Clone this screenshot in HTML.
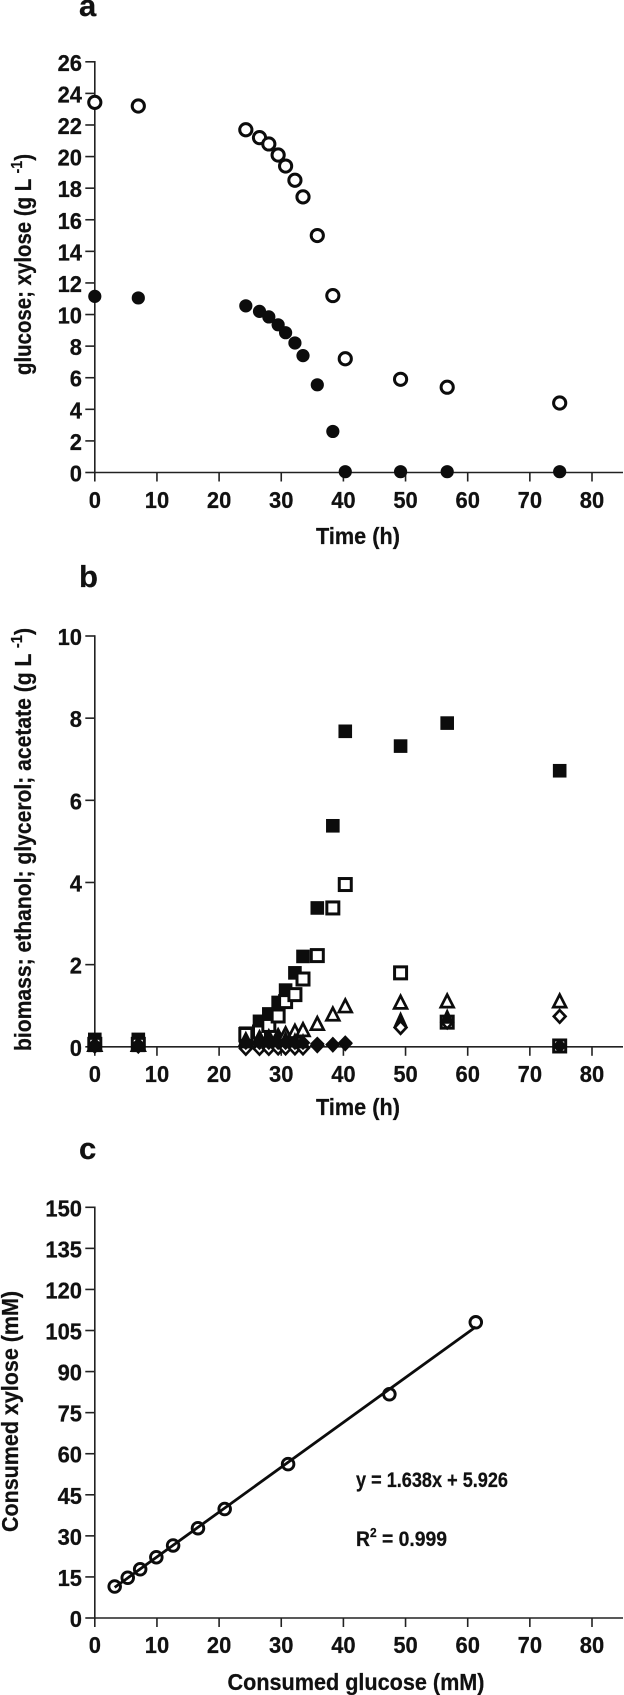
<!DOCTYPE html>
<html lang="en">
<head>
<meta charset="utf-8">
<title>Fermentation time courses</title>
<style>
html,body{margin:0;padding:0;background:#fff;}
svg{display:block;}
text{font-family:"Liberation Sans",sans-serif;font-weight:700;fill:#111;stroke:#111;stroke-width:0.25px;}
</style>
</head>
<body>
<svg id="figure" xmlns="http://www.w3.org/2000/svg" width="624" height="1695" viewBox="0 0 624 1695">
  <rect width="624" height="1695" fill="#fff"/>
  <text x="79" y="16" font-size="31">a</text>
  <text x="79" y="587" font-size="31">b</text>
  <text x="79" y="1159" font-size="31">c</text>

  <g id="panelA"></g>
  <g id="panelB"></g>
  <g id="panelC"></g>

  <text x="358" y="544" font-size="23" text-anchor="middle" textLength="84" lengthAdjust="spacingAndGlyphs">Time (h)</text>
  <text transform="translate(31,375) rotate(-90)" font-size="23" textLength="221" lengthAdjust="spacingAndGlyphs">glucose; xylose (g L <tspan font-size="16" dy="-9">-1</tspan><tspan dy="9">)</tspan></text>

  <text x="358" y="1115" font-size="23" text-anchor="middle" textLength="84" lengthAdjust="spacingAndGlyphs">Time (h)</text>
  <text transform="translate(31,1051) rotate(-90)" font-size="23" textLength="423" lengthAdjust="spacingAndGlyphs">biomass; ethanol; glycerol; acetate (g L <tspan font-size="16" dy="-9">-1</tspan><tspan dy="9">)</tspan></text>

  <text x="356" y="1690" font-size="23" text-anchor="middle" textLength="257" lengthAdjust="spacingAndGlyphs">Consumed glucose (mM)</text>
  <text transform="translate(18,1532) rotate(-90)" font-size="23" textLength="241" lengthAdjust="spacingAndGlyphs">Consumed xylose (mM)</text>

  <text x="356" y="1487" font-size="21" textLength="152" lengthAdjust="spacingAndGlyphs">y = 1.638x + 5.926</text>
  <text x="356" y="1546" font-size="21" textLength="91" lengthAdjust="spacingAndGlyphs">R<tspan font-size="13" dy="-9">2</tspan><tspan dy="9"> = </tspan> 0.999</text>
</svg>
<script>
// Shared axis tick labels
const timeTicks = [0, 10, 20, 30, 40, 50, 60, 70, 80];
const panelAYTicks = [0, 2, 4, 6, 8, 10, 12, 14, 16, 18, 20, 22, 24, 26];
const panelBYTicks = [0, 2, 4, 6, 8, 10];
const panelCYTicks = [0, 15, 30, 45, 60, 75, 90, 105, 120, 135, 150];

// Panel a
const timeHours = [0, 7, 24.3, 26.5, 28, 29.5, 30.7, 32.2, 33.5, 35.8, 38.3, 40.3, 49.2, 56.7, 74.8];
const xyloseValues = [23.43, 23.2, 21.7, 21.2, 20.8, 20.1, 19.4, 18.5, 17.45, 15, 11.2, 7.2, 5.9, 5.4, 4.4];
const glucoseValues = [11.15, 11.05, 10.55, 10.2, 9.85, 9.35, 8.85, 8.2, 7.4, 5.55, 2.6, 0.05, 0.05, 0.05, 0.05];

// Panel b
const ethanolValues = [0.18, 0.18, 0.33, 0.62, 0.8, 1.08, 1.38, 1.8, 2.2, 3.38, 5.38, 7.68, 7.32, 7.88, 6.72];
const biomassValues = [0.06, 0.06, 0.3, 0.36, 0.52, 0.75, 1.1, 1.27, 1.65, 2.22, 3.38, 3.95, 1.8, 0.6, 0.02];
const acetateValues = [0.04, 0.04, 0.15, 0.2, 0.22, 0.25, 0.3, 0.36, 0.4, 0.55, 0.78, 0.98, 1.07, 1.1, 1.1];
const glycerolValues = [0.03, 0.03, 0.12, 0.14, 0.16, 0.17, 0.18, 0.14, 0.12, 0.1, 0.07, 0.1, 0.65, 0.72, 0.05];
const byproductAValues = [0.02, 0.02, -0.04, -0.04, -0.04, -0.03, -0.03, -0.03, -0.03, 0.03, 0.05, 0.08, 0.47, 0.6, 0.74];
const byproductBValues = [0.05, 0.05, 0.1, 0.1, 0.1, 0.1, 0.1, 0.1, 0.1, 0.07, 0.06, 0.1, 0.65, 0.72, 0.02];

// Panel c
const consumedGlucose = [3.2, 5.3, 7.3, 9.9, 12.6, 16.6, 20.9, 31.1, 47.4, 61.3];
const consumedXylose = [11.5, 14.7, 17.8, 22.2, 26.5, 32.8, 39.8, 56.2, 81.7, 108];
const fitSlope = [1.638];
const fitIntercept = [5.926];

const NS = 'http://www.w3.org/2000/svg';
const INK = '#0c0c0c';

function make(tag, parent, attrs) {
  const el = document.createElementNS(NS, tag);
  for (const k in attrs) el.setAttribute(k, attrs[k]);
  parent.appendChild(el);
  return el;
}

function linear(d0, d1, r0, r1) {
  return function (v) { return r0 + (v - d0) * (r1 - r0) / (d1 - d0); };
}

function drawAxes(parent, xScale, yScale, xTicks, yTicks, xLabelBaseline, y0, yTop) {
  const xLine = make('line', parent, { x1: xScale(0), x2: 623, y1: y0, y2: y0, stroke: '#222', 'stroke-width': 1.6 });
  
  
  const yLine = make('line', parent, { x1: xScale(0), x2: xScale(0), y1: yTop - 0.8, y2: y0 + 0.8, stroke: '#222', 'stroke-width': 1.6 });
  
  
  xTicks.forEach(function (t) {
    const tick = make('line', parent, { x1: xScale(t), x2: xScale(t), y1: y0, y2: y0 + 9, stroke: '#222', 'stroke-width': 1.6 });
    
    
    const label = String(t);
    const lab = make('text', parent, { x: xScale(t), y: xLabelBaseline, 'font-size': 23, 'text-anchor': 'middle', textLength: 12.2 * label.length, lengthAdjust: 'spacingAndGlyphs' });
    lab.textContent = label;
    
    
  });
  yTicks.forEach(function (t) {
    const tick = make('line', parent, { x1: xScale(0) - 9.5, x2: xScale(0), y1: yScale(t), y2: yScale(t), stroke: '#222', 'stroke-width': 1.6 });
    
    
    const label = String(t);
    const lab = make('text', parent, { x: 82, y: yScale(t) + 9, 'font-size': 23, 'text-anchor': 'end', textLength: 12.2 * label.length, lengthAdjust: 'spacingAndGlyphs' });
    lab.textContent = label;
    
    
  });
}

const markerShapes = {
  circleOpen: function (g, x, y) { return make('circle', g, { cx: x, cy: y, r: 6.1, fill: '#fff', stroke: INK, 'stroke-width': 3 }); },
  circleFilled: function (g, x, y) { return make('circle', g, { cx: x, cy: y, r: 6.6, fill: INK }); },
  squareFilled: function (g, x, y) { return make('rect', g, { x: x - 6.8, y: y - 6.8, width: 13.6, height: 13.6, fill: INK }); },
  squareOpen: function (g, x, y) { return make('rect', g, { x: x - 6, y: y - 6, width: 12, height: 12, fill: '#fff', stroke: INK, 'stroke-width': 3 }); },
  triangleOpen: function (g, x, y) { return make('polygon', g, { points: (x) + ',' + (y - 7) + ' ' + (x + 6.4) + ',' + (y + 5.5) + ' ' + (x - 6.4) + ',' + (y + 5.5), fill: '#fff', stroke: INK, 'stroke-width': 2.7 }); },
  triangleFilled: function (g, x, y) { return make('polygon', g, { points: (x) + ',' + (y - 9) + ' ' + (x + 7) + ',' + (y + 6.5) + ' ' + (x - 7) + ',' + (y + 6.5), fill: INK }); },
  diamondOpen: function (g, x, y) { return make('polygon', g, { points: (x) + ',' + (y - 6.2) + ' ' + (x + 5.8) + ',' + (y) + ' ' + (x) + ',' + (y + 6.2) + ' ' + (x - 5.8) + ',' + (y), fill: '#fff', stroke: INK, 'stroke-width': 2.6 }); },
  diamondFilled: function (g, x, y) { return make('polygon', g, { points: (x) + ',' + (y - 7.4) + ' ' + (x + 7.4) + ',' + (y) + ' ' + (x) + ',' + (y + 7.4) + ' ' + (x - 7.4) + ',' + (y), fill: INK }); }
};

function drawSeries(parent, name, shape, xs, ys, xScale, yScale, skip) {
  const g = make('g', parent, {});
  
  
  xs.forEach(function (xv, i) {
    if (skip && skip(i)) return;
    const m = markerShapes[shape](g, xScale(xv), yScale(ys[i]));
    
    
  });
}

const xA = linear(0, 80, 94.8, 592);
const yA = linear(0, 26, 472.5, 61.8);
const panelA = document.getElementById('panelA');
drawAxes(panelA, xA, yA, timeTicks, panelAYTicks, 508, yA(0), yA(26));
drawSeries(panelA, 'xylose', 'circleOpen', timeHours, xyloseValues, xA, yA);
drawSeries(panelA, 'glucose', 'circleFilled', timeHours, glucoseValues, xA, yA);

const xB = linear(0, 80, 94.8, 592);
const yB = linear(0, 10, 1046.8, 636);
const panelB = document.getElementById('panelB');
drawAxes(panelB, xB, yB, timeTicks, panelBYTicks, 1082, yB(0), yB(10));
drawSeries(panelB, 'ethanol', 'squareFilled', timeHours, ethanolValues, xB, yB);
drawSeries(panelB, 'biomass', 'squareOpen', timeHours, biomassValues, xB, yB);
drawSeries(panelB, 'acetate', 'triangleOpen', timeHours, acetateValues, xB, yB);
drawSeries(panelB, 'byproduct-a', 'diamondOpen', timeHours, byproductAValues, xB, yB);
drawSeries(panelB, 'glycerol', 'triangleFilled', timeHours, glycerolValues, xB, yB, function (i) { return i >= 12 && i < 14 ? false : i >= 9; });
drawSeries(panelB, 'byproduct-b', 'diamondFilled', timeHours, byproductBValues, xB, yB, function (i) { return i >= 12 && i < 14; });
// Open diamonds sit above the filled triangle at the later time points
drawSeries(panelB, 'byproduct-a-late', 'diamondOpen', timeHours, byproductAValues, xB, yB, function (i) { return i !== 12 && i !== 14; });

const xC = linear(0, 80, 94.8, 592);
const yC = linear(0, 150, 1618, 1207.3);
const panelC = document.getElementById('panelC');
drawAxes(panelC, xC, yC, timeTicks, panelCYTicks, 1653, yC(0), yC(150));
const firstX = consumedGlucose[0];
const lastX = consumedGlucose[consumedGlucose.length - 1];
const fitLine = make('line', panelC, {
  x1: xC(firstX), y1: yC(fitSlope[0] * firstX + fitIntercept[0]),
  x2: xC(lastX), y2: yC(fitSlope[0] * lastX + fitIntercept[0]),
  stroke: INK, 'stroke-width': 2.8
});


const groupC = make('g', panelC, {});


consumedGlucose.forEach(function (xv, i) {
  const c = make('circle', groupC, { cx: xC(xv), cy: yC(consumedXylose[i]), r: 5.8, fill: 'none', stroke: INK, 'stroke-width': 2.9 });
  
  
});
</script>
</body>
</html>
